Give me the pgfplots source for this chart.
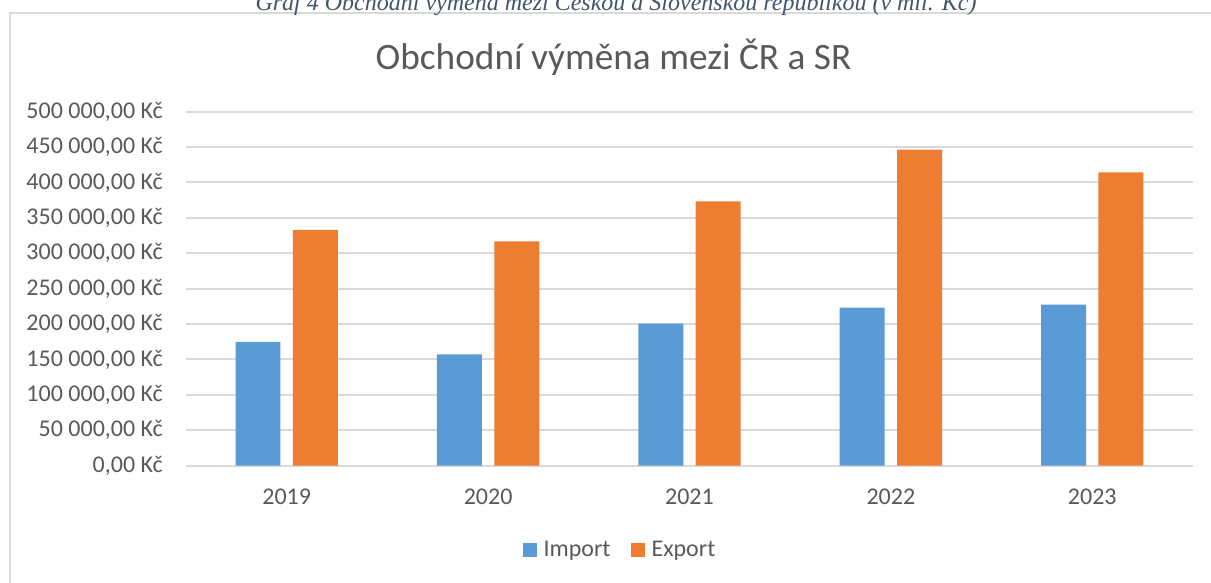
\documentclass[border=0pt]{standalone}
\usepackage{fontspec}
\setmainfont{Carlito}
\newfontfamily\capfont{Liberation Serif}
\usepackage{pgfplots}
\pgfplotsset{compat=1.18}
\definecolor{impc}{HTML}{5B9BD5}
\definecolor{expc}{HTML}{ED7D31}
\definecolor{gridc}{HTML}{D9D9D9}
\definecolor{txt}{HTML}{595959}
\definecolor{capc}{HTML}{44546A}
\begin{document}
\begin{tikzpicture}[x=1pt,y=1pt]
\useasboundingbox (0,0) rectangle (1211,583);
\draw[gridc, line width=2pt] (10,-5) -- (10,570) -- (1216,570);
\node[anchor=base, text=capc, font=\capfont\itshape\fontsize{24}{28}\selectfont, inner sep=0pt] at (616,572) {Graf 4 Obchodní výměna mezi Českou a Slovenskou republikou (v mil. Kč)};
\node[anchor=base, text=txt, font=\fontsize{37.3}{44}\selectfont, inner sep=0pt] at (613.5,513) {Obchodní výměna mezi ČR a SR};
\begin{axis}[
  at={(186pt,117.3pt)}, anchor=south west,
  scale only axis, width=1007pt, height=354pt,
  xmin=-0.5, xmax=4.5, ymin=0, ymax=500000,
  ybar, bar width=0.2234,
  axis line style={draw=none},
  major tick length=0pt,
  xtick={0,1,2,3,4},
  xticklabels={2019,2020,2021,2022,2023},
  ytick={0,50000,100000,150000,200000,250000,300000,350000,400000,450000,500000},
  yticklabels={{0,00 Kč},{50 000,00 Kč},{100 000,00 Kč},{150 000,00 Kč},{200 000,00 Kč},{250 000,00 Kč},{300 000,00 Kč},{350 000,00 Kč},{400 000,00 Kč},{450 000,00 Kč},{500 000,00 Kč}},
  scaled y ticks=false,
  ymajorgrids, grid style={gridc, line width=2pt},
  tick label style={font=\fontsize{24}{28}\selectfont, text=txt, inner sep=0pt},
  yticklabel style={anchor=east, xshift=-23pt},
  xticklabel style={anchor=north, yshift=-23pt},
  legend style={at={(0.431,-0.238)}, anchor=center, draw=none, fill=none,
    legend columns=2, font=\fontsize{24}{28}\selectfont, text=txt,
    /tikz/every even column/.append style={column sep=18pt}},
  legend image code/.code={\fill[#1] (0pt,-7pt) rectangle (14pt,7pt);\path (14pt,0pt) -- (19pt,0pt);},
]
\addplot[fill=impc, draw=none, bar shift=-0.1425] coordinates {(0,175000) (1,157100) (2,200700) (3,223300) (4,227500)};
\addplot[fill=expc, draw=none, bar shift=0.1425] coordinates {(0,333000) (1,317000) (2,373400) (3,446500) (4,414200)};
\legend{Import, Export}
\end{axis}
\end{tikzpicture}
\end{document}
